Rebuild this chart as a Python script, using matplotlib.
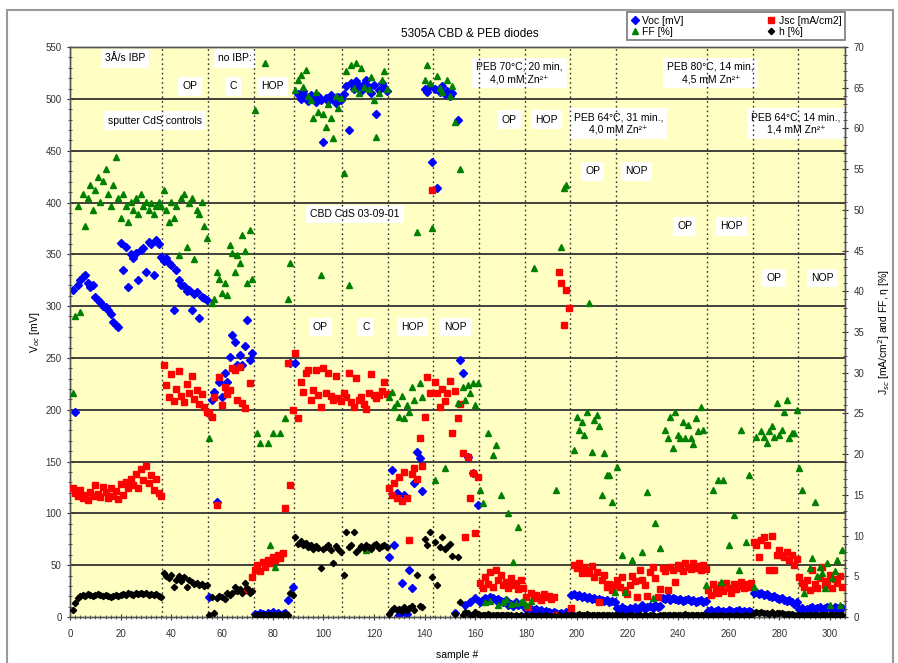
import numpy as np
import matplotlib
matplotlib.use('Agg')
import matplotlib.pyplot as plt
from matplotlib.lines import Line2D
from matplotlib.patches import Rectangle
from matplotlib.ticker import MultipleLocator

plt.rcParams['font.family'] = ['Liberation Sans', 'DejaVu Sans']

# first sample number of each batch of diodes
batch_start = [1, 37, 55, 73, 89, 108, 126, 144, 162, 180, 198, 216, 252, 270, 288]

# Voc [mV], one list per batch (left axis)
voc = [
    [316, 198, 320, 325, 328, 330, 322, 318, 320, 309, 306, 304, 300, 299, 296, 292, 285, 282,
     280, 361, 335, 357, 318, 350, 346, 351, 325, 354, 356, 333, 362, 360, 330, 364, 360, 347],
    [344, 346, 342, 340, 296, 335, 325, 320, 319, 315, 316, 296, 312, 314, 289, 309, 308, 306],
    [19, 209, 217, 111, 227, 212, 235, 227, 251, 272, 265, 243, 253, 243, 262, 287, 248, 255],
    [3, 2, 4, 3, 2, 4, 3, 5, 3, 4, 2, 3, 4, 16, 245, 29],
    [245, 505, 500, 508, 502, 498, 504, 500, 497, 503, 499, 458, 501, 498, 504, 500, 496, 502, 499],
    [505, 512, 470, 515, 510, 517, 512, 508, 514, 518, 511, 506, 513, 485, 509, 515, 511, 508],
    [58, 142, 69, 120, 2, 33, 118, 3, 45, 28, 129, 159, 153, 122, 510, 507, 512, 439],
    [510, 414, 507, 512, 505, 508, 503, 506, 4, 480, 248, 235, 12, 154, 14, 139, 18, 108],
    [14, 16, 18, 17, 19, 18, 16, 17, 15, 14, 16, 12, 13, 11, 14, 12, 13, 12],
    [8, 9, 8, 7, 8, 6, 7, 5, 6, 5, 4, 5, 4, 3, 4, 3, 5, 4],
    [21, 22, 20, 21, 19, 20, 18, 19, 17, 18, 16, 17, 16, 15, 16, 14, 15, 14],
    [9, 7, 10, 8, 7, 9, 8, 10, 7, 9, 12, 8, 10, 11, 9, 12, 10, 11,
     18, 17, 19, 16, 18, 17, 16, 17, 15, 16, 17, 15, 16, 14, 15, 16, 14, 15],
    [6, 7, 5, 6, 7, 5, 6, 5, 7, 6, 5, 6, 7, 5, 6, 5, 6, 5],
    [23, 24, 22, 23, 21, 22, 20, 19, 20, 18, 17, 18, 16, 15, 16, 14, 13, 14],
    [8, 9, 7, 8, 9, 10, 8, 9, 10, 8, 9, 10, 9, 8, 10, 9, 8, 9],
]

# Jsc [mA/cm2] (right axis)
jsc = [
    [15.8, 15.2, 14.8, 15.6, 14.6, 15.0, 14.4, 15.3, 14.9, 16.2, 15.1, 14.7, 16.0, 15.4, 14.6, 15.9, 14.8, 15.5,
     14.5, 16.3, 15.0, 16.6, 15.8, 17.0, 16.2, 17.6, 15.9, 18.2, 16.8, 18.6, 16.4, 17.5, 15.6, 16.9, 15.2, 14.9],
    [31.0, 28.5, 27.0, 29.8, 26.5, 28.0, 30.2, 27.2, 26.4, 28.6, 27.5, 29.6, 26.8, 27.9, 26.2, 27.4, 25.8, 25.2],
    [25.0, 24.6, 27.0, 13.8, 29.5, 26.0, 28.3, 27.4, 27.9, 30.6, 30.3, 26.7, 30.7, 26.3, 25.7, 3.3, 28.8, 4.9],
    [5.8, 6.4, 5.6, 6.8, 6.2, 7.0, 6.6, 7.4, 7.0, 7.6, 7.2, 7.8, 13.4, 31.2, 16.2, 25.4],
    [32.4, 24.4, 28.9, 27.6, 30.0, 30.3, 26.7, 27.9, 30.3, 27.3, 25.8, 30.6, 27.5, 30.0, 27.1, 26.7, 29.6, 26.9, 26.5],
    [27.5, 27.0, 30.0, 26.4, 25.8, 29.4, 26.7, 27.0, 26.2, 25.6, 27.5, 29.8, 27.3, 26.9, 27.3, 27.8, 28.9, 27.4],
    [15.8, 15.0, 16.5, 14.6, 17.2, 14.2, 17.8, 14.6, 9.5, 17.6, 18.3, 17.0, 22.0, 18.6, 24.6, 29.5, 27.5, 52.5],
    [28.9, 27.5, 25.8, 28.0, 26.5, 27.5, 29.0, 22.6, 27.8, 24.5, 26.2, 20.1, 9.8, 19.7, 14.6, 17.7, 10.3, 17.2],
    [4.2, 3.5, 4.9, 4.0, 5.5, 3.7, 5.8, 4.5, 5.2, 3.9, 4.3, 3.5, 4.8, 3.9, 4.2, 3.4, 4.5, 3.6],
    [2.5, 1.2, 2.9, 2.3, 2.7, 2.5, 2.1, 2.8, 2.4, 2.6, 2.2, 2.5, 0.2, 42.4, 41.0, 35.9, 40.2, 38.0],
    [1.1, 6.4, 6.0, 6.6, 5.4, 6.1, 5.8, 5.4, 6.3, 4.9, 5.5, 1.8, 4.5, 5.1, 3.7, 4.0, 3.3, 3.9],
    [4.5, 3.7, 4.9, 3.3, 2.8, 3.9, 5.0, 4.4, 2.4, 5.8, 4.5, 3.9, 2.6, 5.5, 6.1, 4.8, 2.5, 3.4,
     6.0, 5.6, 3.3, 6.1, 5.8, 4.3, 6.4, 6.0, 5.7, 6.6, 6.2, 5.9, 6.6, 6.0, 6.3, 5.8, 6.4, 5.9],
    [3.3, 2.7, 4.0, 3.5, 2.9, 3.9, 3.2, 4.2, 3.6, 3.0, 4.1, 3.4, 3.8, 4.3, 3.5, 4.0, 3.7, 4.2],
    [9.2, 8.8, 7.4, 9.5, 9.8, 8.8, 5.8, 10.0, 5.8, 7.6, 8.2, 7.6, 7.4, 8.0, 7.0, 7.6, 6.4, 7.1],
    [4.9, 4.2, 3.7, 4.5, 3.3, 5.8, 4.0, 3.5, 4.8, 6.1, 3.9, 4.4, 5.2, 3.6, 4.7, 4.2, 5.0, 3.7],
]

# FF [%] (right axis), None = not measured
ff = [
    [27.5, 37.0, 50.5, 37.5, 52.0, 48.0, 51.5, 53.0, 50.0, 52.5, 54.0, 51.0, 53.5, 55.0, 52.0, 50.5, 53.0, 56.5,
     51.5, 49.0, 52.0, 50.5, 48.5, 51.0, 50.0, 51.5, 49.5, 52.0, 50.5, 51.0, 50.0, 50.8, 49.5, 50.5, 51.0, 50.5],
    [52.5, 50.0, 48.5, 51.0, 49.0, 50.5, 44.5, 51.5, 52.0, 45.5, 50.8, 51.5, 44.0, 50.0, 49.5, 51.0, 48.0, 46.5],
    [22.0, 38.6, 39.0, 42.4, 41.5, 39.8, 41.0, 39.6, 45.7, 44.7, 42.4, 44.5, 43.5, 46.9, 45.0, 41.0, 47.5, 41.5],
    [62.3, 22.6, 21.4, None, 68.0, 21.4, 8.8, 22.6, 6.1, None, 22.6, None, 24.4, 39.0, 43.5, None],
    [64.7, 66.0, 66.6, 65.1, 67.2, 64.0, 63.5, 61.3, 64.5, 62.0, 42.0, 61.8, 60.2, 63.0, 61.3, 58.8, 64.0, 62.5, 63.8],
    [54.5, 67.0, 40.8, 67.8, 65.0, 68.0, 64.4, 67.4, 65.1, 8.2, 64.8, 66.3, 63.5, 59.0, 64.4, 66.0, 67.0, 64.8],
    [27.0, 27.6, 25.8, 26.3, 24.6, 27.2, 24.5, 26.0, 25.2, 28.3, 26.6, 47.3, 28.7, 27.0, 66.0, 67.8, 65.6, 47.8],
    [16.8, 66.5, 65.0, 64.5, 18.3, 66.0, 64.0, 65.2, 60.8, 26.3, 55.0, 28.3, 26.7, 28.5, 27.5, 28.8, 26.0, 28.7],
    [15.6, 14.0, 1.8, 22.6, 2.0, 19.9, 21.1, 1.5, 15.0, 1.8, 2.2, 12.8, 1.6, 6.8, 1.7, 11.1, 1.9, 2.0],
    [1.5, None, 2.0, 42.9, None, None, None, None, None, None, None, None, 15.6, None, 45.5, 52.7, 53.0, None],
    [None, 20.5, 24.6, 23.0, 24.0, 22.4, 25.2, 38.6, 20.3, 24.2, 24.8, 23.5, 15.0, 20.1, 17.4, 17.4, 14.1, 3.1],
    [18.4, None, 7.6, 3.1, None, None, 7.0, None, None, None, 8.0, None, 15.4, None, 2.3, 11.5, None, 8.5,
     None, 23.0, 22.0, 24.6, 20.8, 25.2, 22.4, 22.0, 24.0, 22.0, 23.6, 22.0, 21.2, 24.4, 22.8, 25.8, 23.0, 3.9],
    [None, None, 15.6, None, 16.8, 4.3, 16.8, None, 8.8, None, 12.5, None, 5.8, 23.0, None, 9.2, 17.4, None],
    [3.7, 22.1, None, 22.8, 22.1, 21.4, 22.8, 23.4, 22.1, 26.3, 22.4, 23.0, 25.2, 26.7, 22.0, 22.6, 22.6, 25.4],
    [18.3, 15.6, 2.9, None, 6.0, 7.2, 14.1, 5.0, 6.2, 5.4, 3.6, 6.6, 1.5, 4.8, 5.6, 7.0, 1.5, 8.2],
]

# efficiency [%] (right axis)
eta = [
    [0.9, 1.7, 2.3, 2.6, 2.7, 2.6, 2.8, 2.7, 2.6, 2.7, 2.8, 2.7, 2.6, 2.7, 2.6, 2.5, 2.6, 2.7,
     2.6, 2.7, 2.8, 2.7, 2.9, 2.8, 2.7, 2.9, 2.8, 3.0, 2.8, 2.9, 2.7, 2.8, 2.7, 2.8, 2.6, 2.5],
    [5.4, 5.0, 4.8, 5.2, 3.7, 4.5, 5.0, 4.4, 4.9, 3.7, 4.6, 4.3, 4.0, 4.2, 3.9, 4.1, 3.8, 3.9],
    [0.25, 2.5, 0.5, 2.3, 2.6, 2.4, 2.2, 2.9, 2.7, 3.0, 3.7, 3.2, 3.4, 2.9, 4.2, 3.5, 2.9, 3.2],
    [0.3, 0.2, 0.3, 0.2, 0.3, 0.2, 0.3, 0.2, 0.3, 0.2, 0.3, 0.2, 0.4, 0.3, 2.9, 2.7],
    [9.8, 9.0, 9.3, 8.8, 9.1, 8.6, 8.9, 8.4, 8.7, 8.5, 6.0, 8.3, 8.6, 8.9, 8.2, 6.6, 8.7, 8.4, 8.0],
    [5.2, 10.4, 8.6, 8.9, 10.4, 8.0, 8.3, 8.7, 8.5, 8.9, 8.6, 8.4, 8.8, 9.0, 8.5, 8.7, 8.9, 8.6],
    [0.4, 0.8, 1.1, 0.9, 1.0, 0.7, 1.2, 0.9, 1.1, 1.3, 0.8, 5.2, 1.4, 1.2, 9.6, 8.8, 10.4, 4.9],
    [9.2, 3.9, 8.6, 9.8, 8.4, 8.6, 9.0, 7.5, 0.4, 7.4, 1.8, 0.3, 0.6, 0.5, 0.2, 0.3, 0.6, 0.4],
    [0.3, 0.2, 0.3, 0.4, 0.3, 0.2, 0.3, 0.2, 0.3, 0.2, 0.2, 0.3, 0.2, 0.1, 0.2, 0.1, 0.2, 0.1],
    [0.2, 0.1, 0.2, 0.1, 0.1, 0.2, 0.1, 0.1, 0.2, 0.1, 0.1, 0.1, 0.0, 0.2, 0.1, 0.1, 0.2, 0.1],
    [0.2, 0.3, 0.3, 0.4, 0.3, 0.3, 0.4, 0.3, 0.3, 0.3, 0.2, 0.3, 0.3, 0.2, 0.2, 0.3, 0.2, 0.2],
    [0.2, 0.1, 0.2, 0.1, 0.1, 0.2, 0.2, 0.1, 0.1, 0.2, 0.1, 0.2, 0.1, 0.2, 0.2, 0.1, 0.1, 0.2,
     0.3, 0.3, 0.2, 0.3, 0.3, 0.2, 0.3, 0.3, 0.3, 0.4, 0.3, 0.3, 0.3, 0.2, 0.3, 0.3, 0.2, 0.3],
    [0.1, 0.1, 0.2, 0.1, 0.1, 0.2, 0.1, 0.1, 0.2, 0.1, 0.1, 0.2, 0.1, 0.1, 0.1, 0.2, 0.1, 0.1],
    [0.5, 0.6, 0.5, 0.6, 0.5, 0.5, 0.4, 0.6, 0.4, 0.5, 0.5, 0.5, 0.4, 0.4, 0.4, 0.4, 0.3, 0.3],
    [0.2, 0.2, 0.1, 0.2, 0.2, 0.3, 0.2, 0.2, 0.3, 0.2, 0.2, 0.3, 0.2, 0.2, 0.3, 0.2, 0.2, 0.2],
]


def flatten(series):
    xs, ys = [], []
    for start, vals in zip(batch_start, series):
        for k, v in enumerate(vals):
            if v is not None:
                xs.append(start + k)
                ys.append(v)
    return xs, ys


fig = plt.figure(figsize=(8.98, 6.63), dpi=100)
ax = fig.add_axes([0.078, 0.0694, 0.863, 0.8596])
ax.set_facecolor('#ffffc4')
ax2 = ax.twinx()

# grid: solid horizontal lines, dotted batch separators
for y in range(50, 550, 50):
    ax.axhline(y, color='#333333', lw=1.3, zorder=2)
for s in batch_start[1:]:
    ax.axvline(s - 0.5, color='#333333', lw=1.0, ls=(0, (1.2, 2.2)), zorder=2)

x, y = flatten(voc)
ax.plot(x, y, ls='none', marker='D', ms=3.6, color='#0000ff', mec='#0000ff', zorder=3)
x, y = flatten(jsc)
ax2.plot(x, y, ls='none', marker='s', ms=4.2, color='#ff0000', mec='#ff0000', zorder=3)
x, y = flatten(ff)
ax2.plot(x, y, ls='none', marker='^', ms=4.6, color='#008000', mec='#008000', zorder=3)
x, y = flatten(eta)
ax2.plot(x, y, ls='none', marker='D', ms=3.2, color='black', zorder=3)

# annotation labels (x in sample #, y in Voc units)
notes = [
    (21.7, 539, '3Å/s IBP'), (65.2, 539, 'no IBP:'),
    (47.4, 512, 'OP'), (64.4, 512, 'C'), (79.8, 512, 'HOP'),
    (33.6, 479, 'sputter CdS controls'),
    (112.6, 389, 'CBD CdS 03-09-01'),
    (98.8, 280, 'OP'), (117.0, 280, 'C'), (135.2, 280, 'HOP'), (152.2, 280, 'NOP'),
    (177.5, 525, 'PEB 70°C, 20 min,\n4,0 mM Zn²⁺'),
    (253.0, 525, 'PEB 80°C, 14 min,\n4,5 mM Zn²⁺'),
    (216.6, 476, 'PEB 64°C, 31 min.,\n4,0 mM Zn²⁺'),
    (286.6, 476, 'PEB 64°C, 14 min.,\n1,4 mM Zn²⁺'),
    (173.5, 480, 'OP'), (188.0, 480, 'HOP'),
    (206.3, 430, 'OP'), (223.7, 430, 'NOP'),
    (242.7, 377, 'OP'), (261.3, 377, 'HOP'),
    (277.9, 327, 'OP'), (297.2, 327, 'NOP'),
]
for nx, ny, s in notes:
    ax.text(nx, ny, s, ha='center', va='center', fontsize=7.5, linespacing=1.3,
            bbox=dict(fc='white', ec='none', pad=3), zorder=1.5)

ax.set_xlim(0, 306)
ax.set_ylim(0, 550)
ax2.set_ylim(0, 70)
ax.set_xticks(range(0, 301, 20))
ax.set_yticks(range(0, 551, 50))
ax2.set_yticks(range(0, 71, 5))
ax.xaxis.set_minor_locator(MultipleLocator(2))
ax.yaxis.set_minor_locator(MultipleLocator(10))
ax2.yaxis.set_minor_locator(MultipleLocator(1))
for a in (ax, ax2):
    a.tick_params(which='major', direction='inout', length=5, width=0.8, labelsize=7, colors='#333333')
    a.tick_params(which='minor', direction='inout', length=3, width=0.6, colors='#333333')
    for sp in a.spines.values():
        sp.set_color('#555555')
        sp.set_linewidth(1.0)
ax.tick_params(axis='x', pad=6)

ax.set_xlabel('sample #', fontsize=7.5)
ax.xaxis.set_label_coords(0.5, -0.058)
ax.set_ylabel('V$_{oc}$ [mV]', fontsize=7.5)
ax.yaxis.set_label_coords(-0.036, 0.5)
ax2.set_ylabel('J$_{sc}$ [mA/cm$^2$] and FF, η [%]', fontsize=7.5, rotation=90)
ax2.yaxis.set_label_coords(1.04, 0.5)

fig.text(0.523, 0.949, '5305A CBD & PEB diodes', ha='center', va='center', fontsize=8.5)

handles = [
    Line2D([], [], ls='none', marker='D', ms=3.6, color='#0000ff'),
    Line2D([], [], ls='none', marker='s', ms=4.2, color='#ff0000'),
    Line2D([], [], ls='none', marker='^', ms=4.6, color='#008000'),
    Line2D([], [], ls='none', marker='D', ms=3.2, color='black'),
]
labels = ['Voc [mV]', 'Jsc [mA/cm2]', 'FF [%]', 'h [%]']
order = [0, 2, 1, 3]
leg = fig.legend([handles[i] for i in order], [labels[i] for i in order], ncol=2,
                 loc='upper right', bbox_to_anchor=(0.941, 0.982), borderaxespad=0,
                 fontsize=7.5, frameon=True, fancybox=False, edgecolor='#555555',
                 handlelength=0.8, handletextpad=0.3, columnspacing=8.0,
                 borderpad=0.35, labelspacing=0.1)
leg.get_frame().set_linewidth(1.2)

fig.patches.append(Rectangle((0.008, -0.02), 0.986, 1.005, transform=fig.transFigure,
                             fill=False, ec='#999999', lw=1.5))

fig.savefig('out.png', dpi=100)
